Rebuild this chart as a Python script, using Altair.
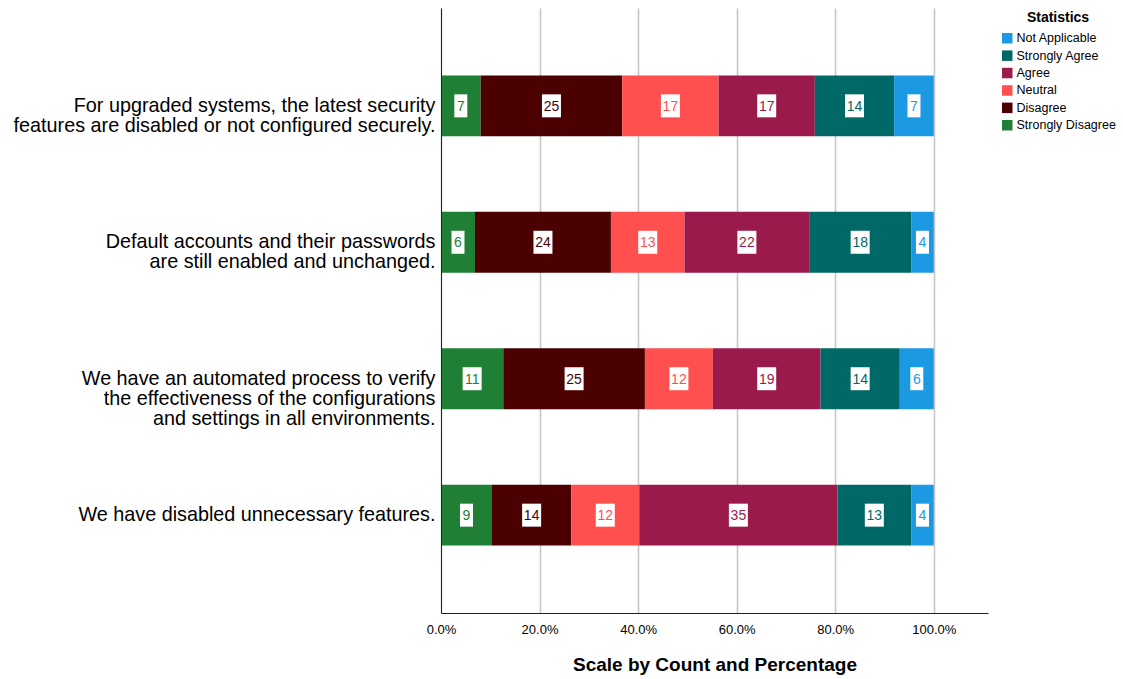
import altair as alt
import pandas as pd

questions = [
    "For upgraded systems, the latest security\nfeatures are disabled or not configured securely.",
    "Default accounts and their passwords\nare still enabled and unchanged.",
    "We have an automated process to verify\nthe effectiveness of the configurations\nand settings in all environments.",
    "We have disabled unnecessary features.",
]
levels = ["Strongly Disagree", "Disagree", "Neutral", "Agree", "Strongly Agree", "Not Applicable"]
colors = ["#1E7F35", "#4B0002", "#FF4F4F", "#991A4B", "#006866", "#1C99E3"]
counts = [
    [7, 25, 17, 17, 14, 7],
    [6, 24, 13, 22, 18, 4],
    [11, 25, 12, 19, 14, 6],
    [9, 14, 12, 35, 13, 4],
]
x_ticks = [0, 0.2, 0.4, 0.6, 0.8, 1.0]

rows = []
for q, vals in zip(questions, counts):
    for i, (lev, n) in enumerate(zip(levels, vals)):
        rows.append({"q": q, "level": lev, "n": n, "ord": i,
                     "digits": "2" if n >= 10 else "1"})
df = pd.DataFrame(rows)

legend_order = levels[::-1]
legend_colors = colors[::-1]
color_scale = alt.Scale(domain=legend_order, range=legend_colors)

y_axis = alt.Axis(title=None, labelExpr="split(datum.label, '\\n')",
                  labelFontSize=19.8, labelFont="Liberation Sans",
                  labelColor="#000", labelLineHeight=20,
                  labelPadding=6, ticks=False, domainColor="#222",
                  domainWidth=1, labelLimit=600, grid=False, zindex=1)
y_scale = alt.Scale(paddingInner=0.554, paddingOuter=0.494)
x_scale = alt.Scale(domain=[0, 1.11], nice=False)
x_axis = alt.Axis(values=x_ticks, labelExpr="format(datum.value, '.1%')",
                  title="Scale by Count and Percentage",
                  titleFontSize=19, titleFont="Liberation Sans", titleFontWeight="bold",
                  titleColor="#000", titlePadding=19,
                  labelFontSize=13, labelFont="Liberation Sans", labelColor="#000",
                  labelPadding=10, labelFlush=False, ticks=False, domainColor="#222",
                  grid=True, gridColor="#c4c4c4", gridWidth=1.5)

base = alt.Chart(df)

bars = base.mark_bar(strokeWidth=0).encode(
    x=alt.X("n:Q", stack="normalize", scale=x_scale, axis=x_axis),
    y=alt.Y("q:N", sort=questions, scale=y_scale, axis=y_axis),
    color=alt.Color("level:N", scale=color_scale,
                    legend=alt.Legend(title="Statistics", orient="none",
                                      legendX=560, legendY=3,
                                      titleFontSize=14, titleFont="Liberation Sans",
                                      titleFontWeight="bold", titleColor="#000",
                                      titleAnchor="middle", titlePadding=7,
                                      labelFontSize=12.5, labelFont="Liberation Sans",
                                      labelColor="#000", symbolType="square",
                                      symbolSize=110, symbolStrokeWidth=0,
                                      rowPadding=4.4, labelOffset=3)),
    order=alt.Order("ord:Q"),
)

stacked = base.transform_stack(
    stack="n", groupby=["q"], sort=[alt.SortField("ord")], as_=["x0", "x1"], offset="normalize"
).transform_calculate(mid="(datum.x0 + datum.x1) / 2")

boxes = stacked.mark_point(filled=True, fill="white", opacity=1, strokeWidth=0, size=361).encode(
    x=alt.X("mid:Q", scale=x_scale, axis=x_axis),
    y=alt.Y("q:N", sort=questions, scale=y_scale, axis=y_axis),
    shape=alt.Shape("digits:N", scale=alt.Scale(
        domain=["1", "2"],
        range=["M-0.684,-1.21L0.684,-1.21L0.684,1.21L-0.684,1.21Z",
               "M-1,-1.21L1,-1.21L1,1.21L-1,1.21Z"]), legend=None),
)

labels = stacked.mark_text(fontSize=14, font="Liberation Sans", baseline="middle", dy=1).encode(
    x=alt.X("mid:Q", scale=x_scale, axis=x_axis),
    y=alt.Y("q:N", sort=questions, scale=y_scale, axis=y_axis),
    text=alt.Text("n:Q"),
    color=alt.Color("level:N", scale=color_scale, legend=None),
)

chart = alt.layer(bars, boxes, labels).properties(
    width=547, height=605,
    background="white",
    autosize=alt.AutoSizeParams(type="none"),
    padding={"left": 441, "top": 8, "right": 135, "bottom": 66},
).configure_view(stroke="transparent", strokeWidth=0)

chart.save("out.html", embed_options={"renderer": "svg", "actions": False})
